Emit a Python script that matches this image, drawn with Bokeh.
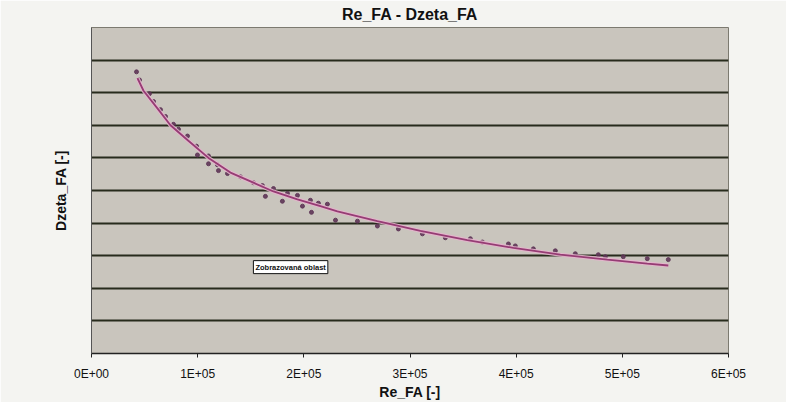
from bokeh.plotting import figure
from bokeh.models import FixedTicker, Label, Range1d, ColumnDataSource
from bokeh.embed import file_html
from bokeh.resources import INLINE

# measured points: Re_FA vs Dzeta_FA (y scale unlabeled in the source, read in grid units)
re_fa = [42400, 45200, 54600, 58400, 65000, 69700, 77200, 81900, 90400, 98900,
         99800, 110200, 110200, 118600, 119600, 128100, 140300, 152500, 161000, 163800,
         171400, 179800, 184600, 194000, 198700, 206200, 207200, 213700, 222200, 229800,
         250500, 269300, 289100, 311700, 333300, 356900, 368200, 392700, 399200, 416200,
         436900, 455700, 477400, 484000, 500900, 523500, 543300]
dzeta_fa = [8.64, 8.39, 7.97, 7.73, 7.48, 7.27, 7.03, 6.88, 6.67, 6.36,
            6.09, 6.06, 5.82, 5.79, 5.61, 5.52, 5.42, 5.24, 5.15, 4.82,
            5.06, 4.67, 4.91, 4.85, 4.52, 4.70, 4.33, 4.61, 4.58, 4.09,
            4.06, 3.91, 3.82, 3.67, 3.55, 3.52, 3.42, 3.36, 3.30, 3.21,
            3.15, 3.06, 3.03, 2.97, 2.97, 2.91, 2.88]

# trend line
trend_re = [43300, 49000, 62100, 74400, 90400, 110200, 130900, 152500, 171400, 194000,
            215600, 231600, 269300, 309800, 354000, 397400, 441600, 485900, 523500, 543300]
trend_dzeta = [8.45, 8.06, 7.52, 7.00, 6.55, 6.00, 5.55, 5.24, 4.97, 4.73,
               4.52, 4.36, 4.06, 3.76, 3.48, 3.24, 3.03, 2.88, 2.76, 2.70]

x_ticks = [0, 100000, 200000, 300000, 400000, 500000, 600000]
x_tick_labels = ["0E+00", "1E+05", "2E+05", "3E+05", "4E+05", "5E+05", "6E+05"]
y_grid = [1, 2, 3, 4, 5, 6, 7, 8, 9]

p = figure(width=786, height=402, output_backend="svg", toolbar_location=None,
           x_range=Range1d(0, 600000), y_range=Range1d(0, 10),
           min_border_left=91, min_border_right=58, min_border_top=27, min_border_bottom=45,
           background_fill_color="#c9c5bd", border_fill_color="#f4f4f1")

p.title.text = "Re_FA - Dzeta_FA"
p.title.align = "center"
p.title.vertical_align = "top"
p.title.text_font = "Liberation Sans"
p.title.text_font_size = "16px"
p.title.text_font_style = "bold"
p.title.text_color = "#111111"
p.title.offset = 0
p.title.standoff = 6

p.outline_line_color = "#7c7a70"
p.outline_line_width = 1

p.xgrid.visible = False
p.ygrid.ticker = FixedTicker(ticks=y_grid)
p.ygrid.grid_line_color = "#272b1c"
p.ygrid.grid_line_width = 2

xa = p.xaxis[0]
xa.ticker = FixedTicker(ticks=x_ticks)
xa.major_label_overrides = {t: l for t, l in zip(x_ticks, x_tick_labels)}
xa.axis_label = "Re_FA [-]"
xa.axis_label_text_font = "Liberation Sans"
xa.axis_label_text_font_size = "14px"
xa.axis_label_text_font_style = "bold"
xa.axis_label_text_color = "#111111"
xa.axis_label_standoff = 0
xa.major_label_text_font = "Liberation Sans"
xa.major_label_text_font_size = "12px"
xa.major_label_text_color = "#111111"
xa.major_label_standoff = 9
xa.major_tick_in = 0
xa.major_tick_out = 4
xa.minor_tick_out = 0
xa.minor_tick_in = 0
xa.axis_line_color = "#222222"
xa.axis_line_width = 1.5
xa.major_tick_line_color = "#222222"

ya = p.yaxis[0]
ya.ticker = FixedTicker(ticks=[])
ya.axis_line_color = "#555555"
ya.axis_label = "Dzeta_FA [-]"
ya.axis_label_text_font = "Liberation Sans"
ya.axis_label_text_font_size = "14px"
ya.axis_label_text_font_style = "bold"
ya.axis_label_text_color = "#111111"
ya.axis_label_standoff = 23

src = ColumnDataSource(dict(x=re_fa, y=dzeta_fa))
p.scatter("x", "y", source=src, size=4, color="#5e3556", alpha=0.9)

p.line(trend_re, trend_dzeta, line_color="#e4b4cc", line_width=4, alpha=0.9)
p.line(trend_re, trend_dzeta, line_color="#963c74", line_width=1.8)

lab = Label(x=152500, y=2.45, text="Zobrazovaná oblast", text_font="Liberation Sans",
            text_font_size="7.5px", text_font_style="bold", text_color="#111111",
            background_fill_color="white", border_line_color="#111111",
            border_line_width=1, padding=2)
p.add_layout(lab)

open("out.html", "w").write(file_html(p, INLINE))
